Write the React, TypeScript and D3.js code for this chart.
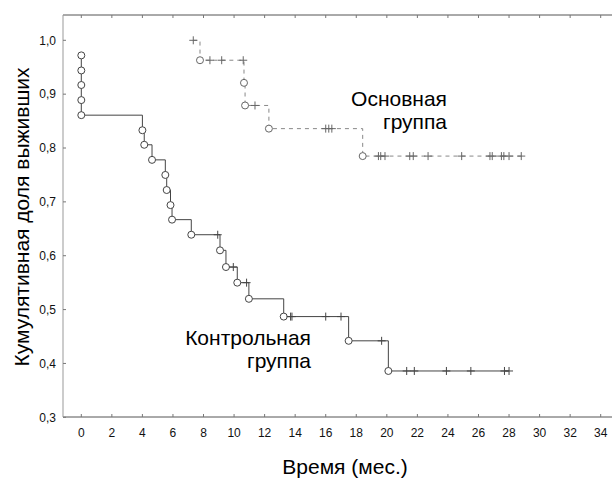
import React from "react";
import * as d3 from "d3";

// Контрольная группа: время события, доля выживших после события, 1 = цензурировано
const controlTimes = [0, 0, 0, 0, 0, 4.0, 4.12, 4.63, 5.5, 5.59, 5.84, 5.94, 7.2, 8.93, 9.08, 9.47, 9.95, 10.21, 10.82, 10.97, 13.25, 13.7, 13.79, 16.0, 17.0, 17.5, 19.66, 20.1, 21.3, 21.8, 23.9, 25.5, 27.7, 28.0];
const controlSurvival = [0.972, 0.944, 0.917, 0.889, 0.861, 0.833, 0.806, 0.778, 0.75, 0.722, 0.694, 0.667, 0.639, 0.639, 0.61, 0.579, 0.579, 0.55, 0.55, 0.52, 0.487, 0.487, 0.487, 0.487, 0.487, 0.442, 0.442, 0.386, 0.386, 0.386, 0.386, 0.386, 0.386, 0.386];
const controlCensored = [0, 0, 0, 0, 0, 0, 0, 0, 0, 0, 0, 0, 0, 1, 0, 0, 1, 0, 1, 0, 0, 1, 1, 1, 1, 0, 1, 0, 1, 1, 1, 1, 1, 1];

// Основная группа
const mainTimes = [7.33, 7.77, 8.42, 9.19, 10.6, 10.65, 10.72, 11.37, 12.28, 16.0, 16.2, 16.4, 18.42, 19.45, 19.6, 19.88, 21.5, 21.73, 22.7, 24.9, 26.75, 26.9, 27.5, 27.66, 28.0, 28.8];
const mainSurvival = [1.0, 0.963, 0.963, 0.963, 0.963, 0.921, 0.879, 0.879, 0.836, 0.836, 0.836, 0.836, 0.785, 0.785, 0.785, 0.785, 0.785, 0.785, 0.785, 0.785, 0.785, 0.785, 0.785, 0.785, 0.785, 0.785];
const mainCensored = [1, 0, 1, 1, 1, 0, 0, 1, 0, 1, 1, 1, 0, 1, 1, 1, 1, 1, 1, 1, 1, 1, 1, 1, 1, 1];

const xTicks = [0, 2, 4, 6, 8, 10, 12, 14, 16, 18, 20, 22, 24, 26, 28, 30, 32, 34];
const yTicks = [0.3, 0.4, 0.5, 0.6, 0.7, 0.8, 0.9, 1.0];

const W = 612;
const H = 480;
const left = 63;
const top = 15;
const bottom = 417;
const font = "'Liberation Sans', Arial, sans-serif";

const x = d3.scaleLinear().domain([0, 34]).range([81.3, 600.7]);
const y = d3.scaleLinear().domain([0.3, 1.0]).range([417.3, 40.3]);

const stepLine = d3
  .line<[number, number]>()
  .x((d) => x(d[0]))
  .y((d) => y(d[1]))
  .curve(d3.curveStepAfter);

function Curve({ times, surv, cens, color, symColor, dash }: any) {
  const pts: [number, number][] = times.map((t: number, i: number) => [t, surv[i]]);
  return (
    <g>
      <path d={stepLine(pts) || ""} fill="none" stroke={color} strokeWidth={1} strokeDasharray={dash} />
      {pts.map((p, i) =>
        cens[i] ? (
          <path
            key={i}
            d={`M${x(p[0]) - 4},${y(p[1])}h8M${x(p[0])},${y(p[1]) - 4}v8`}
            stroke={symColor}
            strokeWidth={1}
          />
        ) : (
          <circle key={i} cx={x(p[0])} cy={y(p[1])} r={3.5} fill="#fff" stroke={symColor} strokeWidth={1} />
        )
      )}
    </g>
  );
}

export default function App() {
  return (
    <svg
      width={W}
      height={H}
      style={{ position: "absolute", left: 0, top: 0, background: "#fff" }}
      fontFamily={font}
    >
      {/* рамка */}
      <line x1={left} x2={W} y1={top} y2={top} stroke="#555" />
      <line x1={left} x2={W} y1={bottom} y2={bottom} stroke="#555" />
      <line x1={left} x2={left} y1={top} y2={bottom} stroke="#999" />

      {xTicks.map((t) => (
        <g key={t}>
          <line x1={x(t)} x2={x(t)} y1={bottom} y2={bottom - 3} stroke="#777" />
          <line x1={x(t)} x2={x(t)} y1={top} y2={top + 3} stroke="#777" />
          <text x={x(t)} y={437} fontSize={12} textAnchor="middle" fill="#111">
            {t}
          </text>
        </g>
      ))}
      {yTicks.map((v) => (
        <g key={v}>
          <line x1={left} x2={left + 3} y1={y(v)} y2={y(v)} stroke="#777" />
          <text x={56} y={y(v)} dy="0.35em" fontSize={12} textAnchor="end" fill="#111">
            {v.toFixed(1).replace(".", ",")}
          </text>
        </g>
      ))}

      <Curve times={mainTimes} surv={mainSurvival} cens={mainCensored} color="#888" symColor="#666" dash="4,4" />
      <Curve times={controlTimes} surv={controlSurvival} cens={controlCensored} color="#444" symColor="#444" />

      <g fontSize={21} textAnchor="end" fill="#000">
        <text x={447} y={106}>Основная</text>
        <text x={447} y={129}>группа</text>
        <text x={311} y={345}>Контрольная</text>
        <text x={311} y={368}>группа</text>
      </g>

      <text x={345} y={474} fontSize={21} textAnchor="middle">
        Время (мес.)
      </text>
      <text transform="translate(29,217) rotate(-90)" fontSize={21} textAnchor="middle">
        Кумулятивная доля выживших
      </text>
    </svg>
  );
}
